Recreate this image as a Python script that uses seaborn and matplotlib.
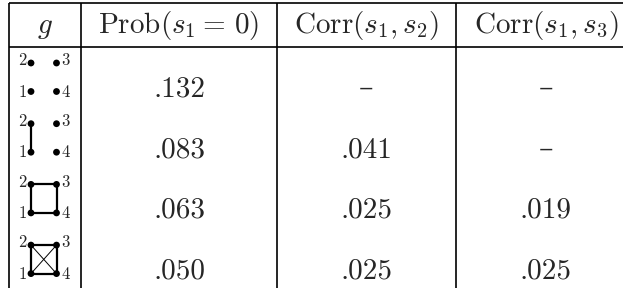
import numpy as np
import pandas as pd
import seaborn as sns
import matplotlib.pyplot as plt

# table content
headers = [r'$g$', r'$\mathrm{Prob}(s_1 = \,0)$', r'$\mathrm{Corr}(s_1,s_2)$', r'$\mathrm{Corr}(s_1,s_3)$']
prob_s1_zero = [0.132, 0.083, 0.063, 0.050]
corr_s1_s2 = [np.nan, 0.041, 0.025, 0.025]
corr_s1_s3 = [np.nan, np.nan, 0.019, 0.025]
node_labels = ['1', '2', '3', '4']
thick_edges = [[], [(1, 2)], [(1, 2), (2, 3), (3, 4), (4, 1)], [(1, 2), (2, 3), (3, 4), (4, 1)]]
thin_edges = [[], [], [], [(1, 3), (2, 4)]]

sns.set_theme(style="white")
plt.rcParams['mathtext.fontset'] = 'cm'

# layout in pixels
col_x = [9, 81, 277, 456, 636]
centers = [(a + b) / 2 for a, b in zip(col_x[:-1], col_x[1:])]
top_y = [63 + 60.7 * i for i in range(4)]
node_dx = {1: 31, 2: 31, 3: 56.5, 4: 56.5}
node_dy = {1: 28.5, 2: 0, 3: 0, 4: 28.5}


def fmt(v):
    if np.isnan(v):
        return '\u2013'
    return f'{v:.3f}'.lstrip('0')


fig = plt.figure(figsize=(6.23, 2.88), dpi=100)
ax = fig.add_axes([0, 0, 1, 1])

# graphs
nodes = []
for i in range(4):
    pos = {k: (node_dx[k], top_y[i] + node_dy[k]) for k in node_dx}
    for k in node_dx:
        nodes.append({'row': i, 'node': k, 'x': pos[k][0], 'y': pos[k][1]})
    for a, b in thick_edges[i]:
        ax.plot([pos[a][0], pos[b][0]], [pos[a][1], pos[b][1]], color='black', lw=1.6, zorder=2)
    for a, b in thin_edges[i]:
        ax.plot([pos[a][0], pos[b][0]], [pos[a][1], pos[b][1]], color='black', lw=0.7, zorder=2)
    for k, lab in zip([1, 2, 3, 4], node_labels):
        x, y = pos[k]
        left = k in (1, 2)
        ax.text(x - 4.5 if left else x + 4.5, y - 2.5 if k in (2, 3) else y + 0.5,
                lab, ha='right' if left else 'left', va='center', fontsize=12,
                family='cmr10')

node_df = pd.DataFrame(nodes)
sns.scatterplot(data=node_df, x='x', y='y', color='black', s=24, edgecolor='none',
                legend=False, ax=ax, zorder=3)
ax.set_xlim(0, 623)
ax.set_ylim(288, 0)
ax.axis('off')

# rules
for y in [2.5, 47]:
    ax.plot([col_x[0], col_x[-1]], [y, y], color='black', lw=1.2, solid_capstyle='butt')
for x in col_x:
    ax.plot([x, x], [2.5, 290], color='black', lw=1.2, solid_capstyle='butt')

# header
for cx, h in zip(centers, headers):
    ax.text(cx, 33, h, ha='center', va='baseline', fontsize=21)

# values
for i in range(4):
    base = top_y[i] + 28.5 + 5
    for cx, col in zip(centers[1:], [prob_s1_zero, corr_s1_s2, corr_s1_s3]):
        v = col[i]
        if np.isnan(v):
            ax.text(cx, base - 8, fmt(v), ha='center', va='center', fontsize=21,
                    family='DejaVu Serif')
        else:
            ax.text(cx, base, fmt(v), ha='center', va='baseline', fontsize=21,
                    family='cmr10')

fig.savefig('out.png', dpi=100)
